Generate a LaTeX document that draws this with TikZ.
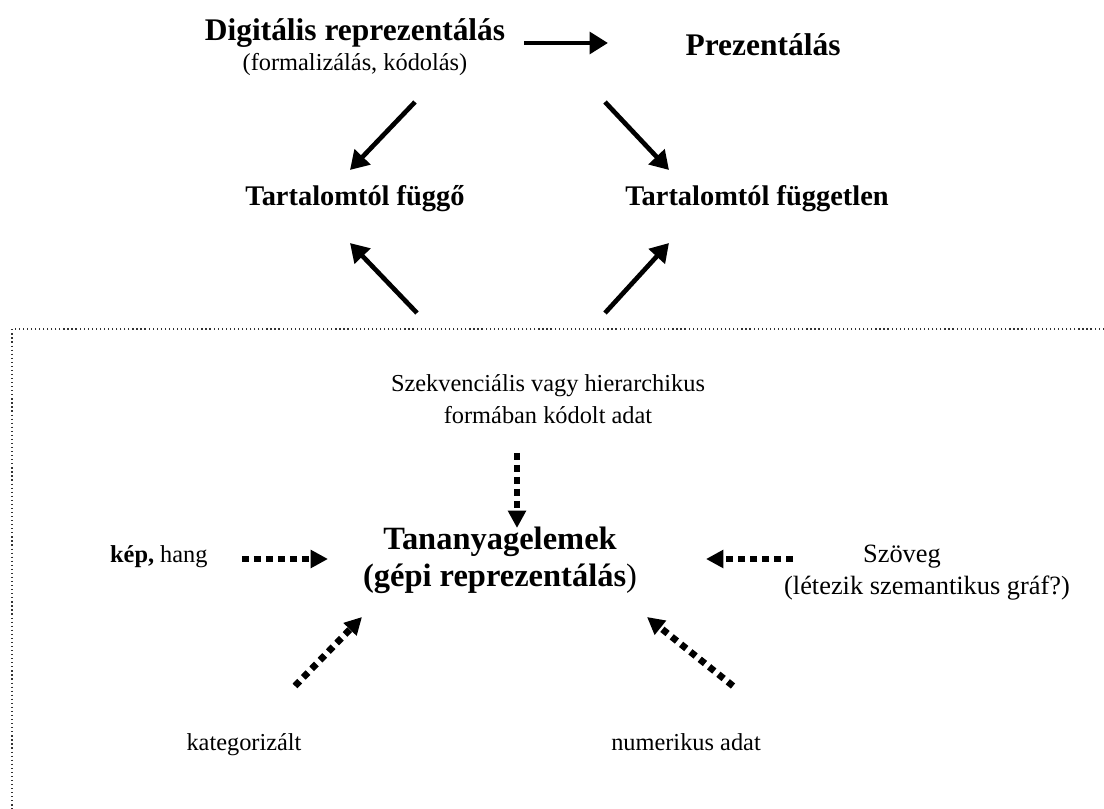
\documentclass[tikz,border=0pt]{standalone}
\usepackage{fontspec}
\setmainfont{Liberation Serif}
\usetikzlibrary{arrows.meta}
\tikzset{
  px/.style={x=0.4926pt,y=-0.4926pt},
  txt/.style={inner sep=0pt,align=center,font=\fontsize{12}{14}\selectfont},
  txtl/.style={inner sep=0pt,align=center,font=\fontsize{13}{15}\selectfont},
  big/.style={inner sep=0pt,align=center,font=\fontsize{15.5}{18}\selectfont\bfseries},
  tanf/.style={inner sep=0pt,align=center,font=\fontsize{16}{18}\selectfont\bfseries},
  mid/.style={inner sep=0pt,align=center,font=\fontsize{14}{16}\selectfont\bfseries},
  solidarrow/.style={line width=2.3pt,-{Triangle[length=9pt,width=10.5pt]}},
  dotarrow/.style={line width=3.3pt,dash pattern=on 3.3pt off 2.6pt,-{Triangle[length=8.5pt,width=8.5pt]}},
  framebox/.style={line width=0.6pt,dash pattern=on 0.6pt off 1.4pt,draw=black!80}
}
\begin{document}
\begin{tikzpicture}[px]
\useasboundingbox (0,0) rectangle (1104,809);
% frame
\draw[framebox] (1112,329) -- (12,329) -- (12,820);
% top texts
\node[big] (dig) at (355,33) {Digitális reprezentálás};
\node[txt] (form) at (355,65) {(formalizálás, kódolás)};
\node[big] (prez) at (763,45) {Prezentálás};
\node[mid] (fuggo) at (355,199) {Tartalomtól függő};
\node[mid] (fuggetlen) at (757,199) {Tartalomtól független};
% arrow coordinates
\coordinate (a1) at (524,43); \coordinate (a2) at (608,43);
\coordinate (b1) at (415,102); \coordinate (b2) at (350,170);
\coordinate (c1) at (605,102); \coordinate (c2) at (669,170);
\coordinate (d1) at (417,313); \coordinate (d2) at (350,243);
\coordinate (e1) at (605,313); \coordinate (e2) at (669,243);
\draw[solidarrow] (a1) -- (a2);
\draw[solidarrow] (b1) -- (b2);
\draw[solidarrow] (c1) -- (c2);
\draw[solidarrow] (d1) -- (d2);
\draw[solidarrow] (e1) -- (e2);
% inner texts
\node[txt] (szek) at (548,399) {Szekvenciális vagy hierarchikus\\[2pt]formában kódolt adat};
\node[tanf,anchor=base] (tan) at (500,550) {Tananyagelemek};
\node[tanf,anchor=base] (tanb) at (500,587) {(gépi reprezentálás\textmd{)}};
\node[txt,anchor=base east] (kep) at (208,563) {\textbf{kép,} hang};
\node[txtl,anchor=base] (szov) at (902,563) {Szöveg};
\node[txtl,anchor=base] (szovb) at (927,595) {(létezik szemantikus gráf?)};
\node[txt,anchor=base] (kat) at (244,751) {kategorizált};
\node[txt,anchor=base] (num) at (686,751) {numerikus adat};
% dotted arrows
\coordinate (f1) at (517,453); \coordinate (f2) at (517,528);
\coordinate (g1) at (242,559); \coordinate (g2) at (328,559);
\coordinate (h1) at (793,559); \coordinate (h2) at (706,559);
\coordinate (i1) at (295,686); \coordinate (i2) at (362,617);
\coordinate (j1) at (733,686); \coordinate (j2) at (647,617);
\draw[dotarrow] (f1) -- (f2);
\draw[dotarrow] (g1) -- (g2);
\draw[dotarrow] (h1) -- (h2);
\draw[dotarrow] (i1) -- (i2);
\draw[dotarrow] (j1) -- (j2);
\end{tikzpicture}
\end{document}
